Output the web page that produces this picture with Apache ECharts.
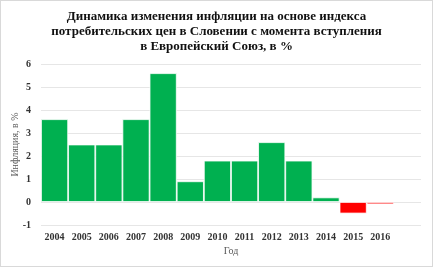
<!DOCTYPE html>
<html>
<head>
<meta charset="utf-8">
<script src="https://cdn.jsdelivr.net/npm/echarts@6/dist/echarts.min.js"></script>
<style>
  html, body { margin: 0; padding: 0; background: #fff; }
  #chart { width: 431px; height: 265px; border: 1px solid #d9d9d9; }
</style>
</head>
<body>
<div id="chart"></div>
<script>
// годы и инфляция, %
const years = ['2004', '2005', '2006', '2007', '2008', '2009', '2010', '2011', '2012', '2013', '2014', '2015', '2016', '']
const inflation = [3.6, 2.5, 2.5, 3.6, 5.6, 0.9, 1.8, 1.8, 2.6, 1.8, 0.2, -0.5, -0.1, null]
const yTicks = [-1, 6, 1]

const chart = echarts.init(document.getElementById('chart'), null, { renderer: 'canvas' })

const font = '"Liberation Serif", "Times New Roman", serif'

chart.setOption({
  animation: false,
  title: {
    text: 'Динамика изменения инфляции на основе индекса\nпотребительских цен в Словении с момента вступления\nв Европейский Союз, в %',
    left: 'center',
    top: 3,
    textStyle: {
      fontFamily: font,
      fontSize: 13,
      fontWeight: 'bold',
      color: '#111',
      lineHeight: 15
    }
  },
  grid: { left: 40, right: 11, top: 63, bottom: 41, outerBoundsMode: 'none', containLabel: false },
  xAxis: {
    type: 'category',
    data: years,
    name: 'Год',
    nameLocation: 'middle',
    nameGap: 21,
    nameMoveOverlap: false,
    nameTextStyle: { fontFamily: font, fontSize: 10, color: '#595959' },
    axisLine: { show: false },
    axisTick: { show: false },
    axisLabel: {
      fontFamily: font, fontSize: 10, fontWeight: 'bold', color: '#333', margin: 7, interval: 0
    }
  },
  yAxis: {
    type: 'value',
    min: yTicks[0],
    max: yTicks[1],
    interval: yTicks[2],
    name: 'Инфляция, в %',
    nameLocation: 'middle',
    nameGap: 21,
    nameMoveOverlap: false,
    nameTextStyle: { fontFamily: font, fontSize: 10, color: '#595959' },
    axisLine: { show: false },
    axisTick: { show: false },
    axisLabel: { fontFamily: font, fontSize: 10, fontWeight: 'bold', color: '#333', margin: 10 },
    splitLine: { lineStyle: { color: '#e6e6e6', width: 1 } }
  },
  series: [{
    type: 'bar',
    data: inflation,
    barWidth: '100%',
    itemStyle: {
      color: p => (p.value < 0 ? '#ff0000' : '#00b050'),
      borderColor: '#ffffff',
      borderWidth: 0.8
    }
  }]
})
</script>
</body>
</html>
